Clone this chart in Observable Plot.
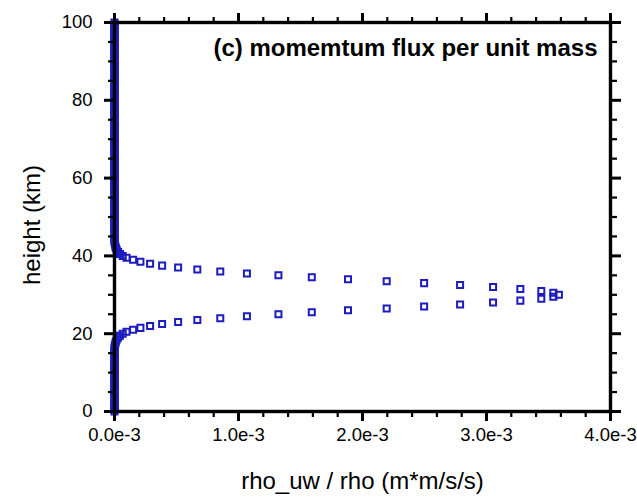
<!DOCTYPE html>
<html>
<head>
<meta charset="utf-8">
<script src="https://cdn.jsdelivr.net/npm/d3@7"></script>
<script src="https://cdn.jsdelivr.net/npm/@observablehq/plot@0.6"></script>
<style>
  html, body { margin: 0; padding: 0; background: white; }
</style>
</head>
<body>
<div id="chart"></div>
<script>
// heights (km), 0.5 km grid
const heights = [
  0,0.5,1,1.5,2,2.5,3,3.5,4,4.5,5,5.5,6,6.5,7,7.5,8,8.5,9,9.5,
  10,10.5,11,11.5,12,12.5,13,13.5,14,14.5,15,15.5,16,16.5,17,17.5,18,18.5,19,19.5,
  20,20.5,21,21.5,22,22.5,23,23.5,24,24.5,25,25.5,26,26.5,27,27.5,28,28.5,29,29.5,
  30,30.5,31,31.5,32,32.5,33,33.5,34,34.5,35,35.5,36,36.5,37,37.5,38,38.5,39,39.5,
  40,40.5,41,41.5,42,42.5,43,43.5,44,44.5,45,45.5,46,46.5,47,47.5,48,48.5,49,49.5,
  50,50.5,51,51.5,52,52.5,53,53.5,54,54.5,55,55.5,56,56.5,57,57.5,58,58.5,59,59.5,
  60,60.5,61,61.5,62,62.5,63,63.5,64,64.5,65,65.5,66,66.5,67,67.5,68,68.5,69,69.5,
  70,70.5,71,71.5,72,72.5,73,73.5,74,74.5,75,75.5,76,76.5,77,77.5,78,78.5,79,79.5,
  80,80.5,81,81.5,82,82.5,83,83.5,84,84.5,85,85.5,86,86.5,87,87.5,88,88.5,89,89.5,
  90,90.5,91,91.5,92,92.5,93,93.5,94,94.5,95,95.5,96,96.5,97,97.5,98,98.5,99,99.5,
  100
];
// rho_uw / rho, in units of 1e-3 m*m/s/s
const flux = [
  0,0,0,0,0,0,0,0,0,0,0,0,0,0,0,0,0,0,0,0,
  0,0,0,0,0,0,0,0,0,0,0,0,0,0,0.004,0.007,0.011,0.018,0.029,0.044,
  0.066,0.097,0.150,0.209,0.287,0.384,0.513,0.668,0.853,1.068,1.322,1.591,1.883,2.195,2.497,2.787,3.053,3.273,3.442,3.539,
  3.584,3.539,3.442,3.273,3.053,2.787,2.497,2.195,1.883,1.591,1.322,1.068,0.853,0.668,0.513,0.384,0.287,0.209,0.150,0.097,
  0.066,0.044,0.029,0.018,0.011,0.007,0.004,0,0,0,0,0,0,0,0,0,0,0,0,0,
  0,0,0,0,0,0,0,0,0,0,0,0,0,0,0,0,0,0,0,0,
  0,0,0,0,0,0,0,0,0,0,0,0,0,0,0,0,0,0,0,0,
  0,0,0,0,0,0,0,0,0,0,0,0,0,0,0,0,0,0,0,0,
  0,0,0,0,0,0,0,0,0,0,0,0,0,0,0,0,0,0,0,0,
  0,0,0,0,0,0,0,0,0,0,0,0,0,0,0,0,0,0,0,0,
  0
];
const xMajor = [0, 1, 2, 3, 4];
const xMinor = [0.2,0.4,0.6,0.8,1.2,1.4,1.6,1.8,2.2,2.4,2.6,2.8,3.2,3.4,3.6,3.8];
const yMajor = [0, 20, 40, 60, 80, 100];
const yMinor = [5,10,15,25,30,35,45,50,55,65,70,75,85,90,95];
const title = "(c) momemtum flux per unit mass";
const xLabel = "rho_uw / rho (m*m/s/s)";
const yLabel = "height (km)";

const data = heights.map((h, i) => ({h, v: flux[i]}));
const blank = () => "";
const font = "'Liberation Sans', Arial, Helvetica, sans-serif";

const plot = Plot.plot({
  width: 637,
  height: 497,
  marginLeft: 114,
  marginRight: 27,
  marginTop: 22,
  marginBottom: 86,
  x: {domain: [0, 4]},
  y: {domain: [0, 100]},
  style: {fontFamily: font, fontSize: "18px", background: "white", color: "black", overflow: "visible"},
  marks: [
    Plot.dot(data, {x: "v", y: "h", symbol: "square", r: 3.4, stroke: "#1c1cc0", strokeWidth: 2, fill: "none"}),
    Plot.axisX({ticks: xMajor, tickSize: 10, strokeWidth: 3, tickPadding: 6, fontSize: 18.5, tickFormat: d => d.toFixed(1) + "e-3", label: null}),
    Plot.axisX({ticks: xMinor, tickSize: 6, strokeWidth: 2.2, tickFormat: blank, label: null}),
    Plot.axisX({anchor: "top", ticks: xMajor, tickSize: 10, strokeWidth: 3, tickFormat: blank, label: null}),
    Plot.axisX({anchor: "top", ticks: xMinor, tickSize: 6, strokeWidth: 2.2, tickFormat: blank, label: null}),
    Plot.axisY({ticks: yMajor, tickSize: 10, strokeWidth: 3, tickPadding: 12, fontSize: 18.5, tickFormat: d => String(d), label: null}),
    Plot.axisY({ticks: yMinor, tickSize: 6, strokeWidth: 2.2, tickFormat: blank, label: null}),
    Plot.axisY({anchor: "right", ticks: yMajor, tickSize: 10, strokeWidth: 3, tickFormat: blank, label: null}),
    Plot.axisY({anchor: "right", ticks: yMinor, tickSize: 6, strokeWidth: 2.2, tickFormat: blank, label: null}),
    Plot.frame({stroke: "black", strokeWidth: 3.4}),
    Plot.text([title], {frameAnchor: "top-right", dx: -13, dy: 26, textAnchor: "end", lineAnchor: "middle", fontWeight: "bold", fontSize: 24, fill: "black"}),
    Plot.text([xLabel], {frameAnchor: "bottom", dy: 70, textAnchor: "middle", lineAnchor: "middle", fontSize: 24, fill: "black"}),
    Plot.text([yLabel], {frameAnchor: "left", dx: -82, dy: 8, rotate: -90, textAnchor: "middle", lineAnchor: "middle", fontSize: 24, fill: "black"})
  ]
});
document.getElementById("chart").appendChild(plot);
</script>
</body>
</html>
